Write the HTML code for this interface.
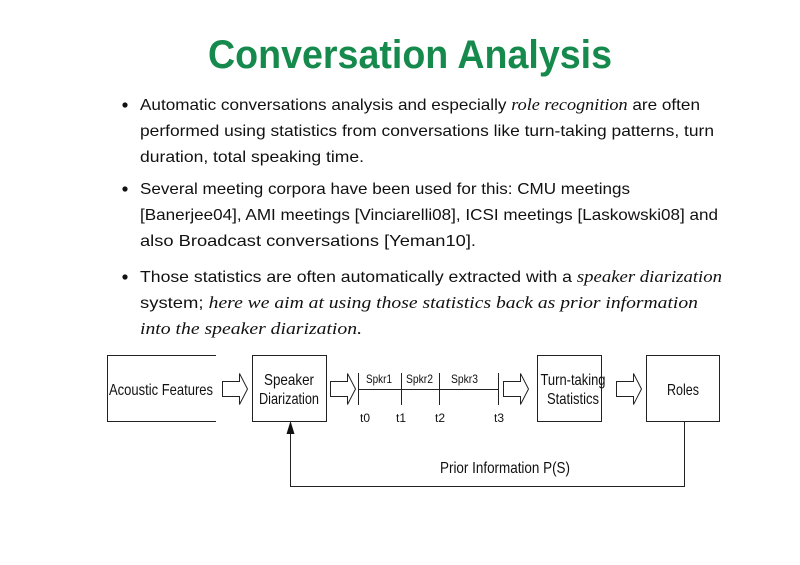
<!DOCTYPE html>
<html><head><meta charset="utf-8"><style>
html,body{margin:0;padding:0;background:#fff;}
svg{display:block;}
.b{font-family:"Liberation Sans",sans-serif;font-size:16px;fill:#111;}
.i{font-family:"Liberation Serif",serif;font-style:italic;font-size:17px;}
.d{font-family:"Liberation Sans",sans-serif;fill:#111;}
</style></head><body>
<svg width="800" height="565" viewBox="0 0 800 565">
<text x="410" y="68" text-anchor="middle" font-family="Liberation Sans,sans-serif" font-size="40" font-weight="bold" fill="#168a4c" textLength="404" lengthAdjust="spacingAndGlyphs">Conversation Analysis</text>
<g class="b">
<circle cx="125" cy="105" r="2.6" fill="#111"/>
<text x="140" y="110" textLength="560" lengthAdjust="spacingAndGlyphs">Automatic conversations analysis and especially <tspan class="i">role recognition</tspan> are often</text>
<text x="140" y="136" textLength="574" lengthAdjust="spacingAndGlyphs">performed using statistics from conversations like turn-taking patterns, turn</text>
<text x="140" y="162" textLength="224" lengthAdjust="spacingAndGlyphs">duration, total speaking time.</text>
<circle cx="125" cy="189" r="2.6" fill="#111"/>
<text x="140" y="194" textLength="490" lengthAdjust="spacingAndGlyphs">Several meeting corpora have been used for this: CMU meetings</text>
<text x="140" y="220" textLength="578" lengthAdjust="spacingAndGlyphs">[Banerjee04], AMI meetings [Vinciarelli08], ICSI meetings [Laskowski08] and</text>
<text x="140" y="246" textLength="336" lengthAdjust="spacingAndGlyphs">also Broadcast conversations [Yeman10].</text>
<circle cx="125" cy="277" r="2.6" fill="#111"/>
<text x="140" y="282" textLength="582" lengthAdjust="spacingAndGlyphs">Those statistics are often automatically extracted with a <tspan class="i">speaker diarization</tspan></text>
<text x="140" y="308" textLength="558" lengthAdjust="spacingAndGlyphs">system; <tspan class="i">here we aim at using those statistics back as prior information</tspan></text>
<text x="140" y="334" textLength="222" lengthAdjust="spacingAndGlyphs" class="i">into the speaker diarization.</text>
</g>
<g fill="none" stroke="#222" stroke-width="1">
<path d="M216 355.5H107.5V421.5H216"/>
<rect x="252.5" y="355.5" width="74" height="66"/>
<rect x="537.5" y="355.5" width="64" height="66"/>
<rect x="646.5" y="355.5" width="73" height="66"/>
<path d="M684.5 421.5V486.5H290.5V432"/>
<path d="M358.5 389.5H498.5M358.5 373V405M401.5 373V405M439.5 373V405M498.5 373V405"/>
<g id="ar"><path d="M222.5 381.5H239.5V373.5L247.5 389L239.5 404.5V396.5H222.5Z"/></g>
<use href="#ar" x="108"/>
<use href="#ar" x="281"/>
<use href="#ar" x="394"/>
</g>
<path d="M290.5 421L286.5 434H294.5Z" fill="#111"/>
<g class="d" font-size="16">
<text x="161" y="395" text-anchor="middle" textLength="104" lengthAdjust="spacingAndGlyphs">Acoustic Features</text>
<text x="289" y="385" text-anchor="middle" textLength="50" lengthAdjust="spacingAndGlyphs">Speaker</text>
<text x="289" y="404" text-anchor="middle" textLength="60" lengthAdjust="spacingAndGlyphs">Diarization</text>
<text x="573" y="385" text-anchor="middle" textLength="65" lengthAdjust="spacingAndGlyphs">Turn-taking</text>
<text x="573" y="404" text-anchor="middle" textLength="52" lengthAdjust="spacingAndGlyphs">Statistics</text>
<text x="683" y="395" text-anchor="middle" textLength="32" lengthAdjust="spacingAndGlyphs">Roles</text>
<text x="440" y="473" textLength="130" lengthAdjust="spacingAndGlyphs">Prior Information P(S)</text>
</g>
<g class="d" font-size="12" fill="#333">
<text x="366" y="383" textLength="26" lengthAdjust="spacingAndGlyphs">Spkr1</text>
<text x="406" y="383" textLength="27" lengthAdjust="spacingAndGlyphs">Spkr2</text>
<text x="451" y="383" textLength="27" lengthAdjust="spacingAndGlyphs">Spkr3</text>
<text x="360" y="422">t0</text>
<text x="396" y="422">t1</text>
<text x="435" y="422">t2</text>
<text x="494" y="422">t3</text>
</g>
</svg>
</body></html>
